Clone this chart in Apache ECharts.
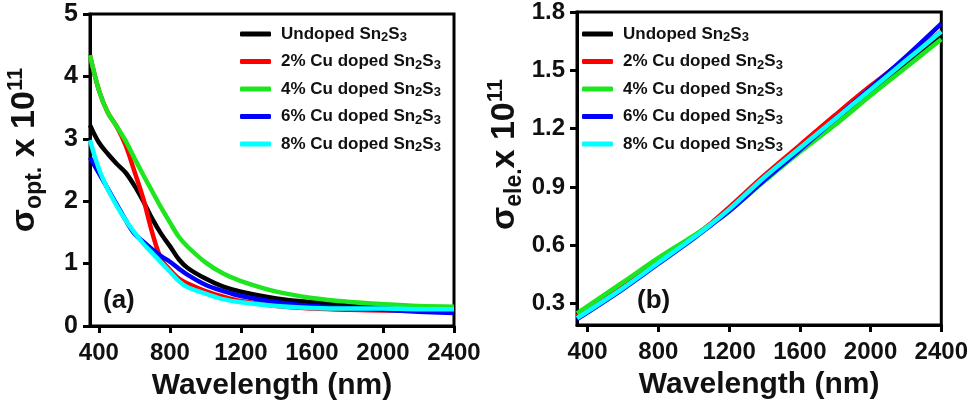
<!DOCTYPE html>
<html lang="en">
<head>
    <meta charset="utf-8">
    <title>sigma opt / ele</title>
    <script src="https://cdn.jsdelivr.net/npm/echarts@6/dist/echarts.min.js"></script>
    <style>
        html, body { margin: 0; padding: 0; background: #fff; }
        #container { width: 971px; height: 408px; }
    </style>
</head>
<body>
<div id="container"></div>
<script>
    // series names + colours
    var names = ['Undoped Sn2S3', '2% Cu doped Sn2S3', '4% Cu doped Sn2S3', '6% Cu doped Sn2S3', '8% Cu doped Sn2S3'];
    var colors = ['#000000', '#ff0000', '#1ee61e', '#0000ff', '#00ffff'];
    var xTicks = [400, 800, 1200, 1600, 2000, 2400];
    var yTicksB = [0.3, 0.6, 0.9, 1.2, 1.5, 1.8];

    // (a) optical conductivity x 10^11
    var wlA = [350, 400, 450, 500, 550, 600, 650, 700, 750, 800, 850, 900, 1000, 1100, 1200, 1400, 1600, 1800, 2000, 2200, 2400];
    var optUndoped = [3.22, 2.94, 2.76, 2.60, 2.46, 2.25, 2.00, 1.72, 1.48, 1.28, 1.07, 0.93, 0.76, 0.63, 0.55, 0.44, 0.38, 0.35, 0.32, 0.30, 0.29];
    var optCu2 = [4.34, 3.78, 3.42, 3.20, 2.90, 2.48, 2.04, 1.50, 1.08, 0.90, 0.76, 0.68, 0.56, 0.47, 0.40, 0.32, 0.28, 0.26, 0.25, 0.25, 0.24];
    var optCu4 = [4.34, 3.78, 3.42, 3.20, 2.97, 2.69, 2.42, 2.16, 1.90, 1.66, 1.43, 1.27, 1.02, 0.84, 0.72, 0.55, 0.45, 0.39, 0.35, 0.32, 0.31];
    var optCu6 = [2.70, 2.45, 2.20, 1.95, 1.70, 1.48, 1.35, 1.23, 1.12, 1.03, 0.92, 0.82, 0.66, 0.56, 0.48, 0.38, 0.32, 0.29, 0.26, 0.23, 0.21];
    var optCu8 = [2.98, 2.52, 2.19, 1.93, 1.70, 1.50, 1.32, 1.17, 1.02, 0.87, 0.72, 0.62, 0.52, 0.43, 0.38, 0.32, 0.29, 0.28, 0.28, 0.27, 0.27];

    // (b) electrical conductivity x 10^11
    var wlB = [340, 600, 800, 1000, 1100, 1200, 1400, 1600, 1800, 2000, 2200, 2400];
    var eleUndoped = [0.24, 0.395, 0.525, 0.645, 0.71, 0.78, 0.94, 1.09, 1.235, 1.385, 1.53, 1.68];
    var eleCu2 = [0.235, 0.39, 0.52, 0.645, 0.715, 0.795, 0.96, 1.115, 1.27, 1.42, 1.56, 1.70];
    var eleCu4 = [0.25, 0.41, 0.535, 0.65, 0.71, 0.775, 0.93, 1.08, 1.22, 1.37, 1.515, 1.66];
    var eleCu6 = [0.22, 0.375, 0.505, 0.635, 0.705, 0.775, 0.935, 1.09, 1.25, 1.41, 1.57, 1.74];
    var eleCu8 = [0.225, 0.38, 0.51, 0.64, 0.71, 0.785, 0.95, 1.10, 1.25, 1.40, 1.55, 1.70];

    var optAll = [optUndoped, optCu2, optCu4, optCu6, optCu8];
    var eleAll = [eleUndoped, eleCu2, eleCu4, eleCu6, eleCu8];

    var FONT = "'Liberation Sans', Arial, sans-serif";

    function pairs(xs, ys) {
        return xs.map(function (x, i) { return [x, ys[i]]; });
    }

    function legendFmt(name) {
        var pre = name.replace('Sn2S3', '');
        return '{t|' + pre + 'Sn}{s|2}{t|S}{s|3}';
    }

    function legend(left) {
        return {
            orient: 'vertical',
            left: left,
            top: 19,
            data: names,
            icon: 'roundRect',
            itemWidth: 31,
            itemHeight: 5,
            itemGap: 7.5,
            selectedMode: false,
            formatter: legendFmt,
            textStyle: {
                fontFamily: FONT,
                fontWeight: 'bold',
                color: '#111',
                padding: [0, 0, 0, 5],
                rich: {
                    t: { fontSize: 17, fontWeight: 'bold', fontFamily: FONT, lineHeight: 20, color: '#111' },
                    s: { fontSize: 13, fontWeight: 'bold', fontFamily: FONT, lineHeight: 14, padding: [7, 0, 0, 0], color: '#111' }
                }
            }
        };
    }

    function xAxis(gi, min) {
        return {
            type: 'value',
            gridIndex: gi,
            min: min,
            max: 2400,
            name: 'Wavelength (nm)',
            nameLocation: 'middle',
            nameGap: 45,
            nameTextStyle: { fontFamily: FONT, fontWeight: 'bold', fontSize: 30, color: '#111' },
            axisLine: { lineStyle: { color: '#000', width: 3 } },
            axisTick: { customValues: xTicks, length: 7, lineStyle: { color: '#000', width: 3 } },
            axisLabel: {
                customValues: xTicks, margin: 15, fontFamily: FONT, fontWeight: 'bold', fontSize: 24, color: '#111',
                formatter: function (v) { return String(v); }
            },
            splitLine: { show: false }
        };
    }

    function yName(sub, space) {
        return '{s|σ}{sub|' + sub + '}{m|' + space + 'x 10}{sup|11}';
    }

    var yRich = {
        s: { fontSize: 34, fontWeight: 'bold', fontFamily: FONT, color: '#111' },
        m: { fontSize: 34, fontWeight: 'bold', fontFamily: FONT, color: '#111' },
        sub: { fontSize: 23, fontWeight: 'bold', fontFamily: FONT, color: '#111', padding: [19, 0, 0, 0] },
        sup: { fontSize: 22, fontWeight: 'bold', fontFamily: FONT, color: '#111', padding: [0, 0, 19, 0] }
    };

    var series = [];
    names.forEach(function (n, i) {
        series.push({
            name: n, type: 'line', xAxisIndex: 0, yAxisIndex: 0,
            data: pairs(wlA, optAll[i]),
            showSymbol: false, smooth: 0.35,
            lineStyle: { color: colors[i], width: 4.5 }, itemStyle: { color: colors[i] }
        });
    });
    names.forEach(function (n, i) {
        series.push({
            name: n, type: 'line', xAxisIndex: 1, yAxisIndex: 1,
            data: pairs(wlB, eleAll[i]),
            showSymbol: false, smooth: 0.35,
            lineStyle: { color: colors[i], width: 4.5 }, itemStyle: { color: colors[i] }
        });
    });

    var myChart = echarts.init(document.getElementById('container'), null, { renderer: 'canvas' });
    var option = {
        animation: false,
        backgroundColor: '#fff',
        grid: [
            { left: 90, top: 14, width: 364, height: 312, show: true, borderColor: '#000', borderWidth: 3 },
            { left: 577, top: 11, width: 365, height: 314, show: true, borderColor: '#000', borderWidth: 3 }
        ],
        legend: [legend(235), legend(577)],
        xAxis: [xAxis(0, 350), xAxis(1, 340)],
        yAxis: [
            {
                type: 'value', gridIndex: 0, min: 0, max: 5, interval: 1,
                name: yName('opt.', ' '), nameLocation: 'middle', nameGap: 44,
                nameTextStyle: { rich: yRich, padding: [0, 0, 0, 40] },
                axisLine: { lineStyle: { color: '#000', width: 3 } },
                axisTick: { length: 7, lineStyle: { color: '#000', width: 3 } },
                axisLabel: { margin: 12, fontFamily: FONT, fontWeight: 'bold', fontSize: 25, color: '#111' },
                splitLine: { show: false }
            },
            {
                type: 'value', gridIndex: 1, min: 0.19, max: 1.8,
                name: yName('ele.', ''), nameLocation: 'middle', nameGap: 51,
                nameTextStyle: { rich: yRich, padding: [0, 0, 0, 28] },
                axisLine: { lineStyle: { color: '#000', width: 3 } },
                axisTick: { customValues: yTicksB, length: 7, lineStyle: { color: '#000', width: 3 } },
                axisLabel: {
                    customValues: yTicksB, margin: 12, fontFamily: FONT, fontWeight: 'bold', fontSize: 24, color: '#111',
                    formatter: function (v) { return v.toFixed(1); }
                },
                splitLine: { show: false }
            }
        ],
        graphic: [
            { type: 'text', left: 103, top: 288, style: { text: '(a)', fontFamily: FONT, fontWeight: 'bold', fontSize: 26, fill: '#111' } },
            { type: 'text', left: 637, top: 288, style: { text: '(b)', fontFamily: FONT, fontWeight: 'bold', fontSize: 26, fill: '#111' } }
        ],
        series: series
    };
    myChart.setOption(option, true);
</script>
</body>
</html>
